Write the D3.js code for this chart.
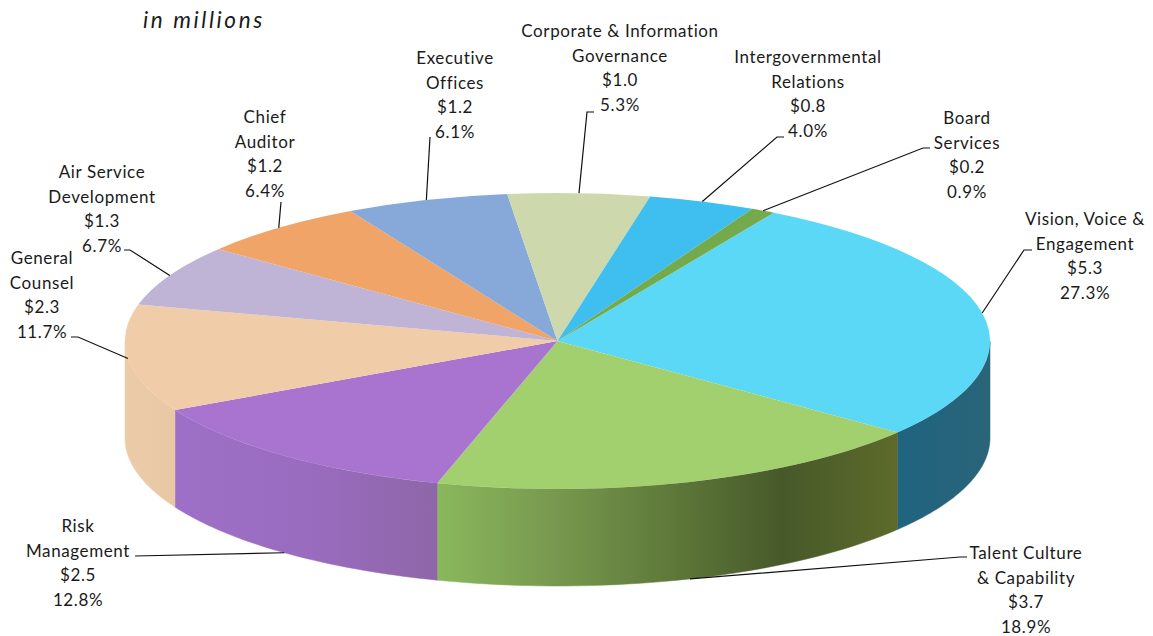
<!DOCTYPE html>
<html>
<head>
<meta charset="utf-8">
<script src="https://cdn.jsdelivr.net/npm/d3@7"></script>
<style>
  html, body { margin: 0; padding: 0; background: #fff; }
  text { font-family: Lato, sans-serif; fill: #1a1a1a; }
</style>
</head>
<body>
<div id="app"></div>
<script>
// chart values
const names = [
    ["Vision, Voice &", "Engagement"],
    ["Talent Culture", "& Capability"],
    ["Risk", "Management"],
    ["General", "Counsel"],
    ["Air Service", "Development"],
    ["Chief", "Auditor"],
    ["Executive", "Offices"],
    ["Corporate & Information", "Governance"],
    ["Intergovernmental", "Relations"],
    ["Board", "Services"]
];
const dollars = [5.3, 3.7, 2.5, 2.3, 1.3, 1.2, 1.2, 1.0, 0.8, 0.2];
const shares = [27.3, 18.9, 12.8, 11.7, 6.7, 6.4, 6.1, 5.3, 4.0, 0.9];

const topColors = ["#5bd8f5", "#a3d06e", "#a874d0", "#f0cda8", "#bfb4d6", "#f0a468", "#86a9da", "#cdd9ac", "#3fbff0", "#74a94c"];
const sideStops = [
    ["#1f6480", "#2a6478"],
    ["#8ab85c", "#78994f", "#5f7a3a", "#47592a", "#5d6a2a"],
    ["#9d6fc6", "#9a6cc0", "#8e66a8"],
    ["#eccba8", "#e8c8a4"]
];

// where each label sits and how its leader bends (one per slice)
const labelCenters = [[1085, 219], [1026, 553], [78, 526], [42, 258], [102, 172], [265, 117], [455, 58], [620, 31], [808, 57], [967, 118]];
const leaderBends = [
    [[1024, 250], [1032, 250]],
    [[960, 557], [967, 557]],
    [[135, 556]],
    [[78, 337], [71, 337]],
    [[130, 250], [124, 250]],
    [[281, 202]],
    [[430, 137]],
    [[587, 112], [594, 112]],
    [[777, 137], [784, 137]],
    [[923, 148], [930, 148]]
];

const width = 1153;
const height = 636;
const cx = 557.5;
const cy = 341;
const rx = 432.5;
const ry = 148;
const depth = 97;
const lineStep = 24.5;

const svg = d3.select("#app")
    .append("svg")
    .attr("width", width)
    .attr("height", height)
    .style("display", "block");

const pie = d3.pie()
    .sort(null)
    .startAngle(30 * Math.PI / 180)
    .endAngle(390 * Math.PI / 180);

const slices = pie(shares);

const edgeX = a => cx + rx * Math.sin(a);
const edgeY = a => cy - ry * Math.cos(a);

// visible wall: from 90deg round to 270deg
const wallFrom = Math.PI / 2;
const wallTo = 3 * Math.PI / 2;
const defs = svg.append("defs");

const walls = slices
    .map((s, i) => ({
        i: i,
        a0: Math.max(s.startAngle, wallFrom),
        a1: Math.min(s.endAngle, wallTo)
    }))
    .filter(w => w.a1 > w.a0);

walls.forEach(w => {
    const x0 = edgeX(w.a0);
    const x1 = edgeX(w.a1);
    const grad = defs.append("linearGradient")
        .attr("id", "wall" + w.i)
        .attr("gradientUnits", "userSpaceOnUse")
        .attr("x1", Math.min(x0, x1))
        .attr("x2", Math.max(x0, x1))
        .attr("y1", 0)
        .attr("y2", 0);
    sideStops[w.i].forEach((c, k, all) => {
        grad.append("stop")
            .attr("offset", k / (all.length - 1))
            .attr("stop-color", c);
    });
});

const wallPath = w => {
    const steps = d3.range(0, 41).map(k => w.a0 + (w.a1 - w.a0) * k / 40);
    const upper = steps.map(a => [edgeX(a), edgeY(a)]);
    const lower = steps.slice().reverse().map(a => [edgeX(a), edgeY(a) + depth]);
    return d3.line()(upper.concat(lower)) + "Z";
};

svg.append("g")
    .selectAll("path")
    .data(walls)
    .enter()
    .append("path")
    .attr("d", wallPath)
    .attr("fill", w => "url(#wall" + w.i + ")")
    .attr("stroke", w => "url(#wall" + w.i + ")")
    .attr("stroke-width", 0.5);

// top face is a circle squashed into an ellipse
const arc = d3.arc().innerRadius(0).outerRadius(rx);

svg.append("g")
    .attr("transform", "translate(" + cx + "," + cy + ") scale(1," + (ry / rx) + ")")
    .selectAll("path")
    .data(slices)
    .enter()
    .append("path")
    .attr("d", arc)
    .attr("fill", (d, i) => topColors[i]);

// leaders start at the middle of each slice, on the wall if it is at the front
const leaderStart = s => {
    const mid = (s.startAngle + s.endAngle) / 2;
    const front = mid > wallFrom + 0.2 && mid < wallTo - 0.2;
    return [edgeX(mid), edgeY(mid) + (front ? depth : 0)];
};

svg.append("g")
    .selectAll("path")
    .data(slices)
    .enter()
    .append("path")
    .attr("d", (s, i) => d3.line()([leaderStart(s)].concat(leaderBends[i])))
    .attr("fill", "none")
    .attr("stroke", "#111")
    .attr("stroke-width", 1.2);

const labels = svg.append("g")
    .selectAll("text")
    .data(slices)
    .enter()
    .append("text")
    .attr("text-anchor", "middle")
    .attr("font-size", 17)
    .attr("letter-spacing", 0.6)
    .attr("x", (s, i) => labelCenters[i][0])
    .attr("y", (s, i) => labelCenters[i][1] + 6);

labels.each(function (s, i) {
    const rows = names[i].concat(["$" + dollars[i].toFixed(1), shares[i].toFixed(1) + "%"]);
    d3.select(this).selectAll("tspan")
        .data(rows)
        .enter()
        .append("tspan")
        .attr("x", labelCenters[i][0])
        .attr("y", (r, k) => labelCenters[i][1] + 6 + k * lineStep)
        .text(r => r);
});

svg.append("text")
    .attr("x", 143)
    .attr("y", 28)
    .attr("font-size", 22.5)
    .attr("font-style", "italic")
    .attr("letter-spacing", 2.6)
    .text("in millions");
</script>
</body>
</html>
